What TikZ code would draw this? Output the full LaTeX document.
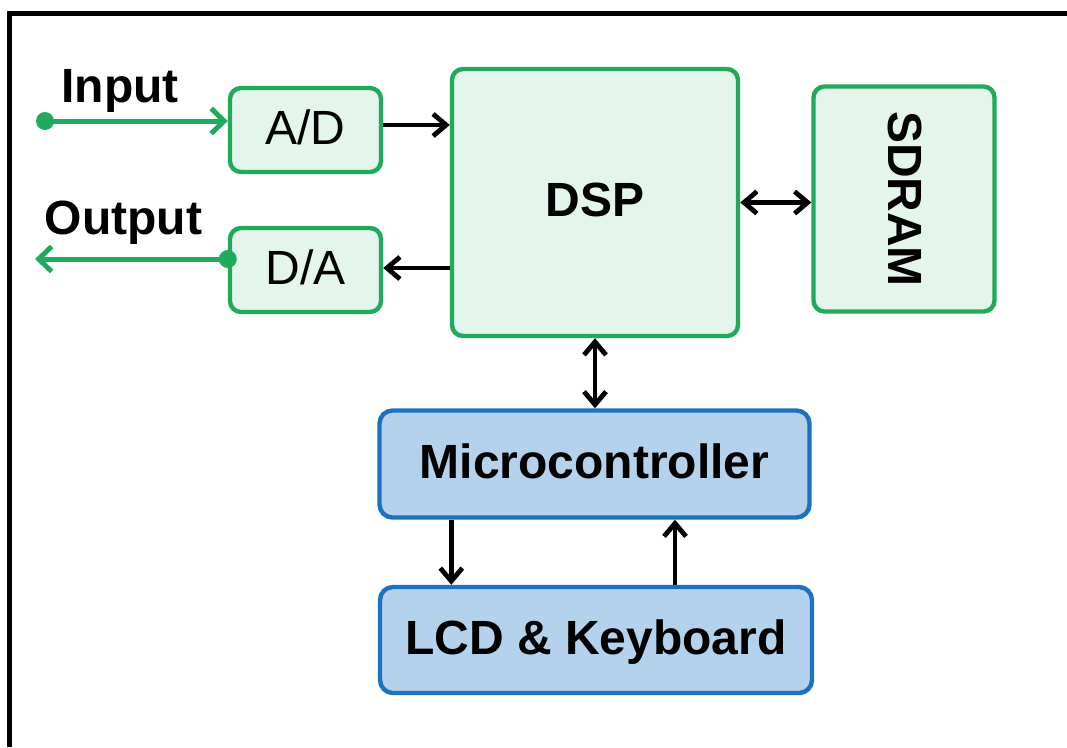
\documentclass[tikz,border=0pt]{standalone}
\usepackage{fontspec}
\setmainfont{Liberation Sans}
\usepackage{graphicx}
\usetikzlibrary{arrows.meta,calc}

\definecolor{boxgreen}{RGB}{32,170,92}
\definecolor{fillgreen}{RGB}{228,245,236}
\definecolor{boxblue}{RGB}{30,112,192}
\definecolor{fillblue}{RGB}{180,210,236}

\tikzset{
  blk/.style={rectangle, rounded corners=11pt, line width=4.4pt, inner sep=0pt,
    text height=34pt, text depth=6pt},
  greenblk/.style={blk, draw=boxgreen, fill=fillgreen},
  blueblk/.style={blk, draw=boxblue, fill=fillblue, rounded corners=13pt},
  boldtxt/.style={font=\fontsize{48}{56}\selectfont\bfseries},
  plaintxt/.style={font=\fontsize{48}{56}\selectfont},
  sidelabel/.style={boldtxt, inner sep=0pt, text height=34pt, text depth=0pt},
  arr/.style={line width=4.8pt, -{Straight Barb[length=13pt,width=22pt,line width=4.8pt]}},
  darr/.style={line width=4.8pt, {Straight Barb[length=13pt,width=22pt,line width=4.8pt]}-{Straight Barb[length=13pt,width=22pt,line width=4.8pt]}},
  garr/.style={line width=5pt, draw=boxgreen, -{Straight Barb[length=13pt,width=25pt,line width=5pt]}},
}

\begin{document}
\begin{tikzpicture}[x=1pt,y=-1pt]
  \useasboundingbox (0,0) rectangle (1067,747);

  % frame along the left and top edges
  \draw[line width=5pt] (9.5,747) -- (9.5,13.5) -- (1067,13.5);

  % blocks
  \node[greenblk, plaintxt, minimum width=151pt, minimum height=84pt] (ad) at (305.5,130) {A/D};
  \node[greenblk, plaintxt, minimum width=151pt, minimum height=84pt] (da) at (305.5,270) {D/A};
  \node[greenblk, boldtxt, minimum width=286pt, minimum height=267pt] (dsp) at (595,202.5) {DSP};
  \node[greenblk, minimum width=181pt, minimum height=225pt] (sdram) at (904,199) {};
  \node[boldtxt, inner sep=0pt] (sdramtxt) at (905,199) {\rotatebox{-90}{SDRAM}};
  \node[blueblk, boldtxt, minimum width=430pt, minimum height=107pt] (mcu) at (594.5,464) {Microcontroller};
  \node[blueblk, boldtxt, minimum width=432pt, minimum height=106pt] (lcd) at (596,640) {LCD \& Keyboard};

  % input / output labels
  \node[sidelabel] (inlbl) at (120,85) {Input};
  \node[sidelabel] (outlbl) at (123.5,217.5) {Output};

  % analog input and output
  \coordinate (insrc) at (45,121);
  \coordinate (outsink) at (35,259);
  \fill[boxgreen] (insrc) circle (9pt);
  \draw[garr] (insrc) -- (insrc -| ad.west);
  \fill[boxgreen] ([yshift=11pt]da.west) circle (9pt);
  \draw[garr] ([yshift=11pt]da.west) -- (outsink);

  % data paths
  \draw[arr] ([yshift=5pt]ad.east) -- ([yshift=5pt]ad.east -| dsp.west);
  \draw[arr] ([yshift=2pt]da.east -| dsp.west) -- ([yshift=2pt]da.east);
  \draw[darr] (dsp.east) -- (dsp.east -| sdram.west);
  \draw[darr] (dsp.south) -- (dsp.south |- mcu.north);
  \draw[arr] ([xshift=74pt]mcu.south west) -- ([xshift=74pt]mcu.south west |- lcd.north);
  \draw[arr] ([xshift=79pt]lcd.north) -- ([xshift=79pt]lcd.north |- mcu.south);
\end{tikzpicture}
\end{document}
